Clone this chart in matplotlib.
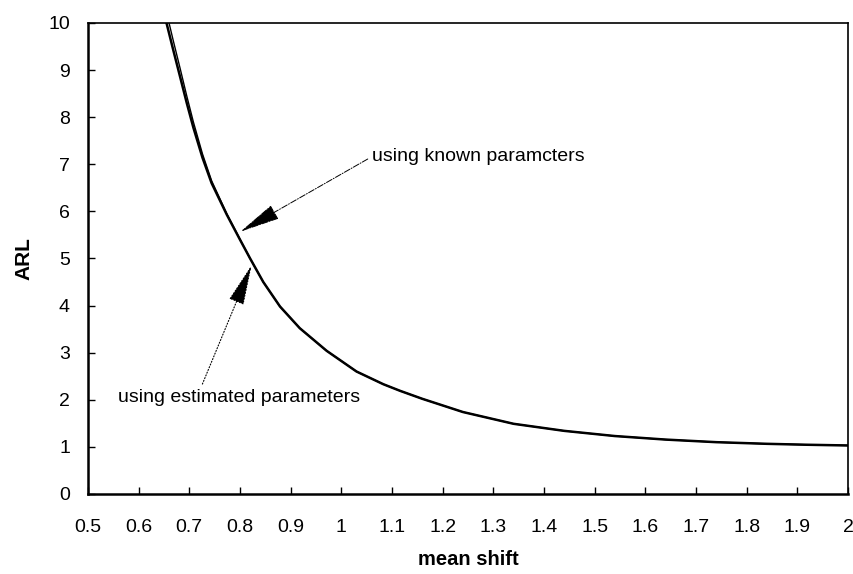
import numpy as np
import matplotlib.pyplot as plt

plt.rcParams['font.family'] = ['Liberation Sans', 'DejaVu Sans']

# ARL curves
shift_known = [0.655, 0.668, 0.682, 0.695, 0.708, 0.726, 0.744, 0.774, 0.80, 0.82,
               0.846, 0.879, 0.918, 0.971, 1.03, 1.083, 1.116, 1.16, 1.24,
               1.34, 1.44, 1.54, 1.64, 1.74, 1.84, 1.92, 2.0]
arl_known = [10.0, 9.44, 8.85, 8.3, 7.78, 7.14, 6.6, 5.93, 5.40, 5.0,
             4.5, 3.98, 3.52, 3.04, 2.6, 2.33, 2.19, 2.02, 1.74,
             1.49, 1.34, 1.23, 1.155, 1.10, 1.065, 1.045, 1.03]

shift_est = [0.66, 0.668, 0.682, 0.695, 0.708, 0.726, 0.744, 0.774, 0.80, 0.82,
             0.846, 0.879, 0.918, 0.971, 1.03, 1.083, 1.116, 1.16, 1.24,
             1.34, 1.44, 1.54, 1.64, 1.74, 1.84, 1.92, 2.0]
arl_est = [10.0, 9.64, 9.03, 8.45, 7.9, 7.22, 6.65, 5.95, 5.41, 5.0,
           4.5, 3.98, 3.52, 3.04, 2.6, 2.33, 2.19, 2.02, 1.74,
           1.49, 1.34, 1.23, 1.155, 1.10, 1.065, 1.045, 1.03]

xticks = [0.5, 0.6, 0.7, 0.8, 0.9, 1, 1.1, 1.2, 1.3, 1.4, 1.5, 1.6, 1.7, 1.8, 1.9, 2]
xticklabels = ['0.5', '0.6', '0.7', '0.8', '0.9', '1', '1.1', '1.2', '1.3', '1.4',
               '1.5', '1.6', '1.7', '1.8', '1.9', '2']
yticks = list(range(0, 11))

fig = plt.figure(figsize=(8.54, 5.74), dpi=100)
ax = fig.add_axes([0.103, 0.1394, 0.890, 0.8206])

ax.plot(shift_known, arl_known, color='black', lw=1.8)
ax.plot(shift_est, arl_est, color='black', lw=1.0)

ax.set_xlim(0.5, 2)
ax.set_ylim(0, 10)
ax.set_xticks(xticks)
ax.set_xticklabels(xticklabels)
ax.set_yticks(yticks)
ax.tick_params(axis='x', direction='in', length=5, width=1, pad=18, labelsize=14)
ax.tick_params(axis='y', direction='in', length=5, width=1, pad=13, labelsize=14)
for s in ax.spines.values():
    s.set_linewidth(1.2)
ax.spines['left'].set_linewidth(1.8)
ax.spines['bottom'].set_linewidth(1.8)

ax.set_xlabel('mean shift', fontsize=14.5, fontweight='bold')
ax.xaxis.set_label_coords(0.5, -0.119)
ax.set_ylabel('ARL', fontsize=15, fontweight='bold')
ax.yaxis.set_label_coords(-0.072, 0.5)

ax.annotate('using known paramcters', xy=(0.801, 5.57), xytext=(1.06, 7.16),
            fontsize=14, ha='left', va='center',
            arrowprops=dict(arrowstyle='-|>,head_length=1.3,head_width=0.25',
                            linestyle='-.', lw=0.7, color='black',
                            mutation_scale=20, relpos=(0.0, 0.5), shrinkA=1, shrinkB=0))
ax.annotate('using estimated parameters', xy=(0.823, 4.86), xytext=(0.559, 2.04),
            fontsize=14, ha='left', va='center',
            arrowprops=dict(arrowstyle='-|>,head_length=1.3,head_width=0.25',
                            linestyle=':', lw=0.8, color='black',
                            mutation_scale=20, relpos=(0.34, 1.0), shrinkA=2, shrinkB=0))

fig.savefig('out.png', dpi=100)
